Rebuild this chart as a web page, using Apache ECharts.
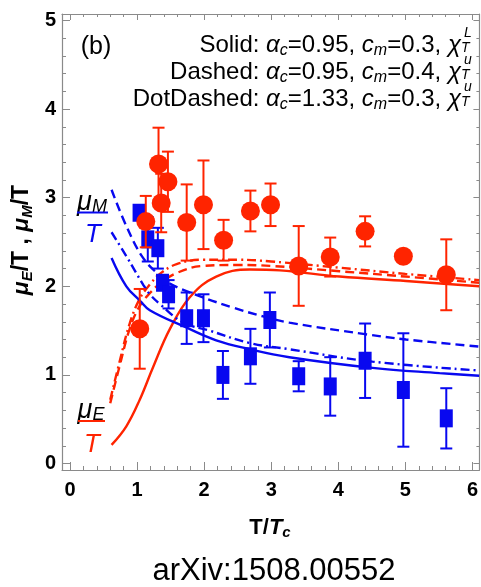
<!DOCTYPE html>
<html>
<head>
<meta charset="utf-8">
<script src="https://cdn.jsdelivr.net/npm/echarts@6/dist/echarts.min.js"></script>
<style>
html,body{margin:0;padding:0;background:#fff;}
#chart{width:481px;height:587px;}
</style>
</head>
<body>
<div id="chart"></div>
<script>
// ---- data ----
var xTickLabels = [0, 1, 2, 3, 4, 5, 6];
var yTickLabels = [0, 1, 2, 3, 4, 5];

// mu_E / T (red circles)
var redX   = [1.04, 1.13, 1.32, 1.36, 1.46, 1.74, 1.99, 2.29, 2.69, 2.99, 3.41, 3.88, 4.40, 4.97, 5.61];
var redY   = [1.52, 2.73, 3.38, 2.94, 3.18, 2.72, 2.92, 2.52, 2.85, 2.92, 2.23, 2.33, 2.62, 2.34, 2.13];
var redErr = [0.45, 0.29, 0.41, 0.33, 0.34, 0.43, 0.50, 0.23, 0.23, 0.24, 0.45, 0.22, 0.17, 0.04, 0.40];

// mu_M / T (blue squares)
var blueX   = [1.03, 1.16, 1.31, 1.38, 1.47, 1.74, 1.99, 2.28, 2.69, 2.98, 3.41, 3.88, 4.40, 4.97, 5.61];
var blueY   = [2.83, 2.53, 2.43, 2.04, 1.91, 1.64, 1.64, 1.00, 1.21, 1.62, 0.985, 0.87, 1.16, 0.83, 0.51];
var blueErr = [0.06, 0.25, 0.23, 0.08, 0.16, 0.29, 0.27, 0.27, 0.31, 0.31, 0.17, 0.33, 0.42, 0.64, 0.34];

// model curves
var redSolid = [[0.62,0.21],[0.84,0.42],[1.04,0.72],[1.24,1.09],[1.49,1.52],[1.79,1.88],[2.18,2.11],[2.68,2.19],[3.13,2.18],[4.02,2.11],[5.01,2.06],[6.1,2.00]];
var redDashed = [[0.60,0.68],[0.74,1.10],[0.89,1.52],[1.04,1.78],[1.20,1.93],[1.34,2.03],[1.59,2.15],[1.98,2.23],[2.50,2.24],[3.00,2.23],[4.02,2.17],[5.00,2.11],[6.1,2.04]];
var redDotDashed = [[0.60,0.72],[0.74,1.15],[0.89,1.58],[1.04,1.86],[1.20,2.03],[1.34,2.14],[1.59,2.25],[1.98,2.30],[2.50,2.30],[3.00,2.28],[4.02,2.21],[5.00,2.14],[6.1,2.07]];
var blueSolid = [[0.62,2.32],[0.84,2.00],[1.04,1.84],[1.19,1.73],[1.69,1.55],[2.18,1.39],[2.68,1.29],[3.27,1.20],[4.51,1.08],[5.51,1.02],[6.1,0.99]];
var blueDashed = [[0.62,3.09],[0.84,2.68],[1.09,2.32],[1.34,2.12],[1.49,2.03],[1.93,1.89],[2.43,1.76],[2.88,1.66],[3.27,1.59],[4.40,1.46],[5.01,1.40],[6.1,1.32]];
var blueDotDashed = [[0.62,2.61],[0.84,2.34],[1.09,2.02],[1.19,1.91],[1.34,1.80],[1.69,1.59],[2.08,1.50],[2.68,1.36],[3.27,1.29],[4.51,1.15],[6.1,1.05]];

// ---- styling ----
var RED = '#ff2400', BLUE = '#0808f0', AX = '#8a8a8a';
var FONT = 'Liberation Sans';
var XMIN = -0.119, XMAX = 6.104, YMIN = -0.073, YMAX = 5.073;

function minors(lo, hi, step) {
  var out = [];
  for (var v = lo; v <= hi + 1e-9; v += step) out.push(Math.round(v * 1000) / 1000);
  return out;
}
var xMinor = minors(0, 6, 0.2);
var yMinor = minors(0, 5, 0.2);

function makeAxis(pos, min, max, vals, len, showLine, labels, isX) {
  return {
    type: 'value', position: pos, min: min, max: max,
    splitLine: {show: false},
    axisLine: {show: showLine, onZero: false, lineStyle: {color: AX, width: 1.2}},
    axisTick: {show: true, inside: true, length: len, customValues: vals, lineStyle: {color: AX, width: 1}},
    axisLabel: labels ? {show: true, customValues: labels, fontFamily: FONT, fontWeight: 'bold', fontSize: 20, color: '#000', margin: isX ? 10 : 6} : {show: false}
  };
}

function errSeries(xs, ys, es, color, z) {
  var d = xs.map(function (x, i) { return [x, ys[i] - es[i], ys[i] + es[i]]; });
  return {
    type: 'custom', xAxisIndex: 0, yAxisIndex: 0, data: d, z: z,
    renderItem: function (params, api) {
      var x = api.value(0);
      var a = api.coord([x, api.value(1)]);
      var b = api.coord([x, api.value(2)]);
      var w = 6;
      var st = {stroke: color, lineWidth: 2};
      return {type: 'group', children: [
        {type: 'line', shape: {x1: a[0], y1: a[1], x2: b[0], y2: b[1]}, style: st},
        {type: 'line', shape: {x1: a[0] - w, y1: a[1], x2: a[0] + w, y2: a[1]}, style: st},
        {type: 'line', shape: {x1: b[0] - w, y1: b[1], x2: b[0] + w, y2: b[1]}, style: st}
      ]};
    }
  };
}

function curve(data, color, type, z) {
  return {
    type: 'line', data: data, smooth: 0.4, showSymbol: false, symbol: 'none',
    lineStyle: {color: color, width: 2.4, type: type}, z: z, silent: true
  };
}

var chart = echarts.init(document.getElementById('chart'), null, {renderer: 'canvas'});

var LF = 24;
var legendRich = {
  i: {fontFamily: FONT, fontSize: LF, fontStyle: 'italic', color: '#000', lineHeight: 28},
  s: {fontFamily: FONT, fontSize: 16, fontStyle: 'italic', color: '#000', lineHeight: 9, verticalAlign: 'bottom'}
};
function legendLine(txt, y, sup) {
  return [
    {type: 'text', x: 461, y: y, style: {text: txt, rich: legendRich, fontFamily: FONT, fontSize: LF, fill: '#000', lineHeight: 28, align: 'right', verticalAlign: 'middle'}},
    {type: 'text', x: 464, y: y - 12, style: {text: sup, fontFamily: FONT, fontSize: 14, fontStyle: 'italic', fill: '#000', align: 'left', verticalAlign: 'middle'}},
    {type: 'text', x: 461, y: y + 3, style: {text: 'T', fontFamily: FONT, fontSize: 14, fontStyle: 'italic', fill: '#000', align: 'left', verticalAlign: 'middle'}}
  ];
}

var axisNameRich = {
  b: {fontFamily: FONT, fontSize: 23, fontWeight: 'bold', color: '#000', lineHeight: 26},
  i: {fontFamily: FONT, fontSize: 23, fontWeight: 'bold', fontStyle: 'italic', color: '#000', lineHeight: 26},
  s: {fontFamily: FONT, fontSize: 15, fontWeight: 'bold', fontStyle: 'italic', color: '#000', lineHeight: 10, verticalAlign: 'bottom'}
};
var xNameRich = {
  b: {fontFamily: FONT, fontSize: 22, fontWeight: 'bold', color: '#000', lineHeight: 24},
  i: {fontFamily: FONT, fontSize: 22, fontWeight: 'bold', fontStyle: 'italic', color: '#000', lineHeight: 24},
  s: {fontFamily: FONT, fontSize: 15, fontWeight: 'bold', fontStyle: 'italic', color: '#000', lineHeight: 10, verticalAlign: 'bottom'}
};

var graphics = [
  {type: 'text', x: 96, y: 47, style: {text: '(b)', fontFamily: FONT, fontSize: 25, fill: '#000', align: 'center', verticalAlign: 'middle'}},
  // mu_M / T label
  {type: 'text', x: 92, y: 202, style: {text: '{i|μ}{s|M}', rich: {
      i: {fontFamily: FONT, fontSize: 27, fontStyle: 'italic', color: BLUE, lineHeight: 28},
      s: {fontFamily: FONT, fontSize: 18, fontStyle: 'italic', color: BLUE, lineHeight: 20, verticalAlign: 'bottom'}},
      align: 'center', verticalAlign: 'middle'}},
  {type: 'line', shape: {x1: 77, y1: 212.5, x2: 108, y2: 212.5}, style: {stroke: BLUE, lineWidth: 2}},
  {type: 'text', x: 93, y: 235, style: {text: 'T', fontFamily: FONT, fontSize: 26, fontStyle: 'italic', fill: BLUE, align: 'center', verticalAlign: 'middle'}},
  // mu_E / T label
  {type: 'text', x: 91, y: 410, style: {text: '{i|μ}{s|E}', rich: {
      i: {fontFamily: FONT, fontSize: 27, fontStyle: 'italic', color: RED, lineHeight: 28},
      s: {fontFamily: FONT, fontSize: 18, fontStyle: 'italic', color: RED, lineHeight: 20, verticalAlign: 'bottom'}},
      align: 'center', verticalAlign: 'middle'}},
  {type: 'line', shape: {x1: 78, y1: 421, x2: 105, y2: 421}, style: {stroke: RED, lineWidth: 2}},
  {type: 'text', x: 92, y: 445, style: {text: 'T', fontFamily: FONT, fontSize: 26, fontStyle: 'italic', fill: RED, align: 'center', verticalAlign: 'middle'}},
  // y axis name
  {type: 'text', x: 22, y: 240, rotation: Math.PI / 2, style: {
      text: '{i|μ}{s|E}{b|/T , }{i|μ}{s|M}{b|/T}', rich: axisNameRich, align: 'center', verticalAlign: 'middle'}},
  // x axis name
  {type: 'text', x: 270, y: 528, style: {text: '{b|T/}{i|T}{s|c}', rich: xNameRich, align: 'center', verticalAlign: 'middle'}},
  // caption
  {type: 'text', x: 274, y: 571, style: {text: 'arXiv:1508.00552', fontFamily: FONT, fontSize: 31, fill: '#000', align: 'center', verticalAlign: 'middle'}}
];
graphics = graphics
  .concat(legendLine('Solid: {i|α}{s|c}=0.95, {i|c}{s|m}=0.3, {i|χ}', 45, 'L'))
  .concat(legendLine('Dashed: {i|α}{s|c}=0.95, {i|c}{s|m}=0.4, {i|χ}', 72, 'u'))
  .concat(legendLine('DotDashed: {i|α}{s|c}=1.33, {i|c}{s|m}=0.3, {i|χ}', 99, 'u'));

var option = {
  animation: false,
  backgroundColor: '#fff',
  grid: {left: 62, top: 14, width: 418, height: 456, containLabel: false},
  xAxis: [
    makeAxis('bottom', XMIN, XMAX, xTickLabels, 8, true, xTickLabels, true),
    makeAxis('bottom', XMIN, XMAX, xMinor, 4, false, null, true),
    makeAxis('top', XMIN, XMAX, xTickLabels, 6, true, null, true),
    makeAxis('top', XMIN, XMAX, xMinor, 3, false, null, true)
  ],
  yAxis: [
    makeAxis('left', YMIN, YMAX, yTickLabels, 8, true, yTickLabels, false),
    makeAxis('left', YMIN, YMAX, yMinor, 4, false, null, false),
    makeAxis('right', YMIN, YMAX, yTickLabels, 6, true, null, false),
    makeAxis('right', YMIN, YMAX, yMinor, 3, false, null, false)
  ],
  series: [
    curve(redSolid, RED, 'solid', 2),
    curve(redDashed, RED, [9, 5], 2),
    curve(redDotDashed, RED, [9, 4, 2, 4], 2),
    curve(blueSolid, BLUE, 'solid', 2),
    curve(blueDashed, BLUE, [9, 5], 2),
    curve(blueDotDashed, BLUE, [9, 4, 2, 4], 2),
    errSeries(blueX, blueY, blueErr, BLUE, 3),
    {type: 'scatter', data: blueX.map(function (x, i) { return [x, blueY[i]]; }), symbol: 'rect', symbolSize: [13, 18], itemStyle: {color: BLUE, opacity: 1}, z: 4},
    errSeries(redX, redY, redErr, RED, 5),
    {type: 'scatter', data: redX.map(function (x, i) { return [x, redY[i]]; }), symbol: 'circle', symbolSize: 19, itemStyle: {color: RED, opacity: 1}, z: 6}
  ],
  graphic: graphics
};
chart.setOption(option);
</script>
</body>
</html>
